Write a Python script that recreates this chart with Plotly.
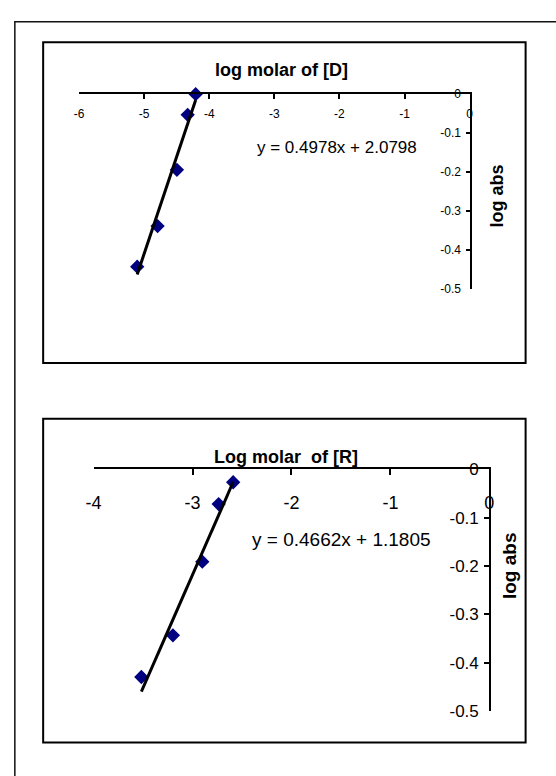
import plotly.graph_objects as go

W, H = 556, 776

# ---------------- data ----------------
d_log_molar = [-5.106, -4.793, -4.496, -4.331, -4.208]
d_log_abs = [-0.442, -0.338, -0.194, -0.053, 0.0]
d_slope, d_intercept = 0.4978, 2.0798

r_log_molar = [-3.517, -3.198, -2.901, -2.736, -2.589]
r_log_abs = [-0.429, -0.343, -0.191, -0.072, -0.027]
r_slope, r_intercept = 0.4662, 1.1805

d_xticks = [-6, -5, -4, -3, -2, -1, 0]
d_xtext = ["-6", "-5", "-4", "-3", "-2", "-1", "0"]
r_xticks = [-4, -3, -2, -1, 0]
r_xtext = ["-4", "-3", "-2", "-1", "0"]
yticks = [0, -0.1, -0.2, -0.3, -0.4, -0.5]
ytext = ["0", "-0.1", "-0.2", "-0.3", "-0.4", "-0.5"]

title_d = "log molar of [D]"
title_r = "Log molar\u00a0 of [R]"
ytitle = "log abs"


def fx(px):
    return px / W


def fy(py):
    return 1 - py / H


def trend(xs, m, b):
    x0, x1 = min(xs), max(xs)
    return [x0, x1], [m * x0 + b, m * x1 + b]


NARROW = "Liberation Sans Narrow, Arial Narrow, Liberation Sans, Arial, sans-serif"
SANS = "Liberation Sans, Arial, sans-serif"

fig = go.Figure()

# chart 1
fig.add_trace(go.Scatter(x=d_log_molar, y=d_log_abs, mode="markers",
                         marker=dict(symbol="diamond", size=11, color="#000080"),
                         cliponaxis=False, xaxis="x", yaxis="y", showlegend=False))
tx, ty = trend(d_log_molar, d_slope, d_intercept)
fig.add_trace(go.Scatter(x=tx, y=ty, mode="lines", line=dict(color="black", width=3),
                         cliponaxis=False, xaxis="x", yaxis="y", showlegend=False))

# chart 2
fig.add_trace(go.Scatter(x=r_log_molar, y=r_log_abs, mode="markers",
                         marker=dict(symbol="diamond", size=11, color="#000080"),
                         cliponaxis=False, xaxis="x2", yaxis="y2", showlegend=False))
tx, ty = trend(r_log_molar, r_slope, r_intercept)
fig.add_trace(go.Scatter(x=tx, y=ty, mode="lines", line=dict(color="black", width=3),
                         cliponaxis=False, xaxis="x2", yaxis="y2", showlegend=False))

common = dict(showgrid=False, zeroline=False, showline=True, linecolor="black",
              linewidth=2, ticks="inside", tickcolor="black", tickwidth=1.5,
              ticklabelposition="inside", ticklabeloverflow="allow", fixedrange=True)

fig.update_layout(
    width=W, height=H, margin=dict(l=0, r=0, t=0, b=0),
    paper_bgcolor="white", plot_bgcolor="white",
    xaxis=dict(domain=[fx(72.7), fx(472.7)], range=[-6, 0], side="top", anchor="y",
               tickvals=d_xticks, ticktext=d_xtext, ticklen=5, ticklabelstandoff=10,
               tickfont=dict(family=NARROW, size=12, color="black"), **common),
    yaxis=dict(domain=[fy(287.3), fy(87.3)], range=[-0.5, 0], side="right", anchor="x",
               tickvals=yticks, ticktext=ytext, ticklen=4, ticklabelstandoff=4,
               tickfont=dict(family=NARROW, size=12, color="black"), **common),
    xaxis2=dict(domain=[fx(87.6), fx(492.9)], range=[-4, 0], side="top", anchor="y2",
                tickvals=r_xticks, ticktext=r_xtext, ticklen=6, ticklabelstandoff=22,
                tickfont=dict(family=SANS, size=18, color="black"), **common),
    yaxis2=dict(domain=[fy(720), fy(471.7)], range=[-0.5, 0], side="right", anchor="x2",
                tickvals=yticks, ticktext=ytext, ticklen=5, ticklabelstandoff=6,
                tickfont=dict(family=SANS, size=17, color="black"), **common),
)

shapes = [
    dict(type="rect", xref="paper", yref="paper", x0=fx(7), x1=fx(570), y0=fy(13), y1=fy(790),
         line=dict(color="#111", width=1.5)),
    dict(type="rect", xref="paper", yref="paper", x0=fx(36), x1=fx(530), y0=fy(34), y1=fy(363),
         line=dict(color="black", width=2)),
    dict(type="rect", xref="paper", yref="paper", x0=fx(36), x1=fx(530), y0=fy(420), y1=fy(752),
         line=dict(color="black", width=2)),
]
fig.update_layout(shapes=shapes)

ann = [
    dict(text="<b>%s</b>" % title_d, x=fx(280), y=fy(63), font=dict(family=SANS, size=18)),
    dict(text="y = %.4fx + %.4f" % (d_slope, d_intercept), x=fx(337), y=fy(142),
         font=dict(family=SANS, size=17)),
    dict(text="<b>%s</b>" % ytitle, x=fx(501), y=fy(192), textangle=-90,
         font=dict(family=SANS, size=18)),
    dict(text="<b>%s</b>" % title_r, x=fx(284.5), y=fy(459), font=dict(family=SANS, size=18)),
    dict(text="y = %.4fx + %.4f" % (r_slope, r_intercept), x=fx(341), y=fy(544),
         font=dict(family=SANS, size=19)),
    dict(text="<b>%s</b>" % ytitle, x=fx(513), y=fy(571), textangle=-90,
         font=dict(family=SANS, size=19)),
]
for a in ann:
    a.update(xref="paper", yref="paper", showarrow=False, xanchor="center", yanchor="middle")
    a["font"]["color"] = "black"
fig.update_layout(annotations=ann)

fig.write_html("out.html")
